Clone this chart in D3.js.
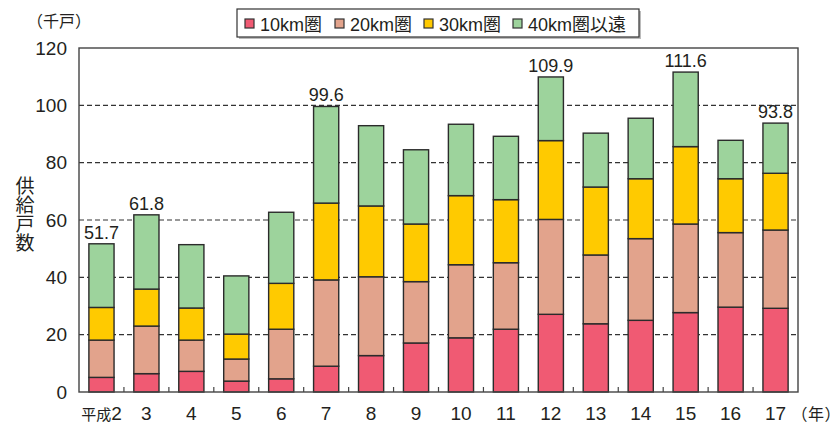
<!DOCTYPE html>
<html>
<head>
<meta charset="utf-8">
<script src="https://cdn.jsdelivr.net/npm/d3@7"></script>
<style>
  html, body { margin: 0; padding: 0; background: #fff; }
  svg { display: block; font-family: "Liberation Sans", Arial, "Noto Sans CJK JP", sans-serif; }
</style>
</head>
<body>
<svg id="chart" width="838" height="423"></svg>
<script>
// 供給戸数（千戸）— 圏域別
const years = ["平成2", "3", "4", "5", "6", "7", "8", "9", "10", "11", "12", "13", "14", "15", "16", "17"];
const km10  = [5.1, 6.4, 7.2, 3.8, 4.6, 9.0, 12.7, 17.1, 18.9, 21.9, 27.1, 23.8, 25.0, 27.7, 29.6, 29.2];
const km20  = [13.0, 16.6, 10.9, 7.7, 17.3, 30.1, 27.5, 21.4, 25.5, 23.2, 33.1, 24.0, 28.5, 30.9, 26.0, 27.3];
const km30  = [11.4, 12.9, 11.2, 8.7, 16.0, 26.8, 24.7, 20.1, 24.1, 22.0, 27.5, 23.7, 20.9, 27.0, 18.8, 19.8];
const km40  = [22.2, 25.9, 22.1, 20.3, 24.8, 33.7, 28.0, 25.9, 24.9, 22.1, 22.2, 18.8, 21.1, 26.0, 13.4, 17.5];
const seriesNames = ["10km圏", "20km圏", "30km圏", "40km圏以遠"];
const seriesColors = ["#f05a73", "#e2a38c", "#ffca00", "#9dd39c"];
const totalLabels = [
  { year: "平成2", text: "51.7" },
  { year: "3", text: "61.8" },
  { year: "7", text: "99.6" },
  { year: "12", text: "109.9" },
  { year: "15", text: "111.6" },
  { year: "17", text: "93.8" }
];
const yTicks = [0, 20, 40, 60, 80, 100, 120];

const svg = d3.select("#chart");
const plot = { left: 79, right: 798, top: 48, bottom: 392 };
const ink = "#231f20";

const x = d3.scaleBand().domain(years)
  .range([plot.left, plot.right]).paddingInner(0.44).paddingOuter(0.22);
const y = d3.scaleLinear().domain([0, 120]).range([plot.bottom, plot.top]);

const rows = years.map((yr, i) => ({ year: yr, k10: km10[i], k20: km20[i], k30: km30[i], k40: km40[i] }));
const stack = d3.stack().keys(["k10", "k20", "k30", "k40"]);
const layers = stack(rows);

// dashed gridlines
svg.append("g").selectAll("line")
  .data(yTicks.filter(t => t > 0 && t < 120))
  .join("line")
  .attr("x1", plot.left).attr("x2", plot.right)
  .attr("y1", d => y(d)).attr("y2", d => y(d))
  .attr("stroke", "#333").attr("stroke-width", 1.1)
  .attr("stroke-dasharray", "5,3");

// stacked bars
svg.append("g").selectAll("g")
  .data(layers)
  .join("g")
  .attr("fill", (d, i) => seriesColors[i])
  .selectAll("rect")
  .data(d => d)
  .join("rect")
  .attr("x", d => x(d.data.year))
  .attr("width", x.bandwidth())
  .attr("y", d => y(d[1]))
  .attr("height", d => y(d[0]) - y(d[1]))
  .attr("stroke", "#2b2b2b").attr("stroke-width", 1.4);

// frame
svg.append("rect")
  .attr("x", plot.left).attr("y", plot.top)
  .attr("width", plot.right - plot.left).attr("height", plot.bottom - plot.top)
  .attr("fill", "none").attr("stroke", "#444").attr("stroke-width", 1.4);

// y axis labels
const yAxis = d3.axisLeft(y).tickValues(yTicks).tickSize(0).tickPadding(12);
const gy = svg.append("g").attr("transform", `translate(${plot.left},0)`).call(yAxis);
gy.select(".domain").remove();
gy.selectAll("text").attr("font-size", 19).attr("fill", ink)
  .attr("font-family", "Liberation Sans, Arial, sans-serif");

// x axis: inner ticks between categories
const step = x.step();
svg.append("g").selectAll("line")
  .data(years.slice(1))
  .join("line")
  .attr("x1", d => x(d) - x.paddingInner() * step / 2)
  .attr("x2", d => x(d) - x.paddingInner() * step / 2)
  .attr("y1", plot.bottom).attr("y2", plot.bottom - 5)
  .attr("stroke", "#444").attr("stroke-width", 1.2);

const xl = svg.append("g").selectAll("text")
  .data(years)
  .join("text")
  .attr("x", d => x(d) + x.bandwidth() / 2)
  .attr("y", 420)
  .attr("text-anchor", "middle")
  .attr("fill", ink);
xl.each(function (d) {
  const m = d.match(/^(\D*)(\d+)$/);
  const t = d3.select(this);
  if (m[1]) t.append("tspan").attr("font-size", 15).attr("font-family", "Noto Sans CJK JP").text(m[1]);
  t.append("tspan").attr("font-size", 19).text(m[2]);
});

// total labels
svg.append("g").selectAll("text")
  .data(totalLabels)
  .join("text")
  .attr("x", d => x(d.year) + x.bandwidth() / 2)
  .attr("y", d => {
    const i = years.indexOf(d.year);
    return y(km10[i] + km20[i] + km30[i] + km40[i]) - 5;
  })
  .attr("text-anchor", "middle")
  .attr("font-size", 18).attr("fill", ink)
  .text(d => d.text);

// unit labels
svg.append("text").attr("x", 27).attr("y", 27)
  .attr("font-size", 16).attr("fill", ink).attr("font-family", "Noto Sans CJK JP")
  .text("（千戸）");
svg.append("text").attr("x", 799).attr("y", 420)
  .attr("font-size", 16).attr("fill", ink).attr("font-family", "Noto Sans CJK JP")
  .style("font-feature-settings", "'palt' 1")
  .attr("textLength", 34).attr("lengthAdjust", "spacing")
  .text("（年）");

// vertical axis title
svg.append("text").attr("x", 25).attr("y", 176)
  .attr("font-size", 19).attr("fill", ink)
  .attr("font-family", "Noto Sans CJK JP")
  .style("writing-mode", "vertical-rl")
  .style("text-orientation", "upright")
  .text("供給戸数");

// legend
const legend = svg.append("g");
legend.append("rect").attr("x", 239).attr("y", 11).attr("width", 402).attr("height", 28)
  .attr("fill", "#bbb");
legend.append("rect").attr("x", 237).attr("y", 9).attr("width", 402).attr("height", 28)
  .attr("fill", "#fff").attr("stroke", "#333").attr("stroke-width", 1.2);
const legendX = [245, 335, 424, 513];
seriesNames.forEach((name, i) => {
  const g = legend.append("g").attr("transform", `translate(${legendX[i]},0)`);
  g.append("rect").attr("x", 0).attr("y", 19).attr("width", 9).attr("height", 9)
    .attr("fill", seriesColors[i]).attr("stroke", "#333").attr("stroke-width", 1.2);
  g.append("text").attr("x", 15).attr("y", 30.5).attr("font-size", 18).attr("fill", ink)
    .text(name);
});
</script>
</body>
</html>
